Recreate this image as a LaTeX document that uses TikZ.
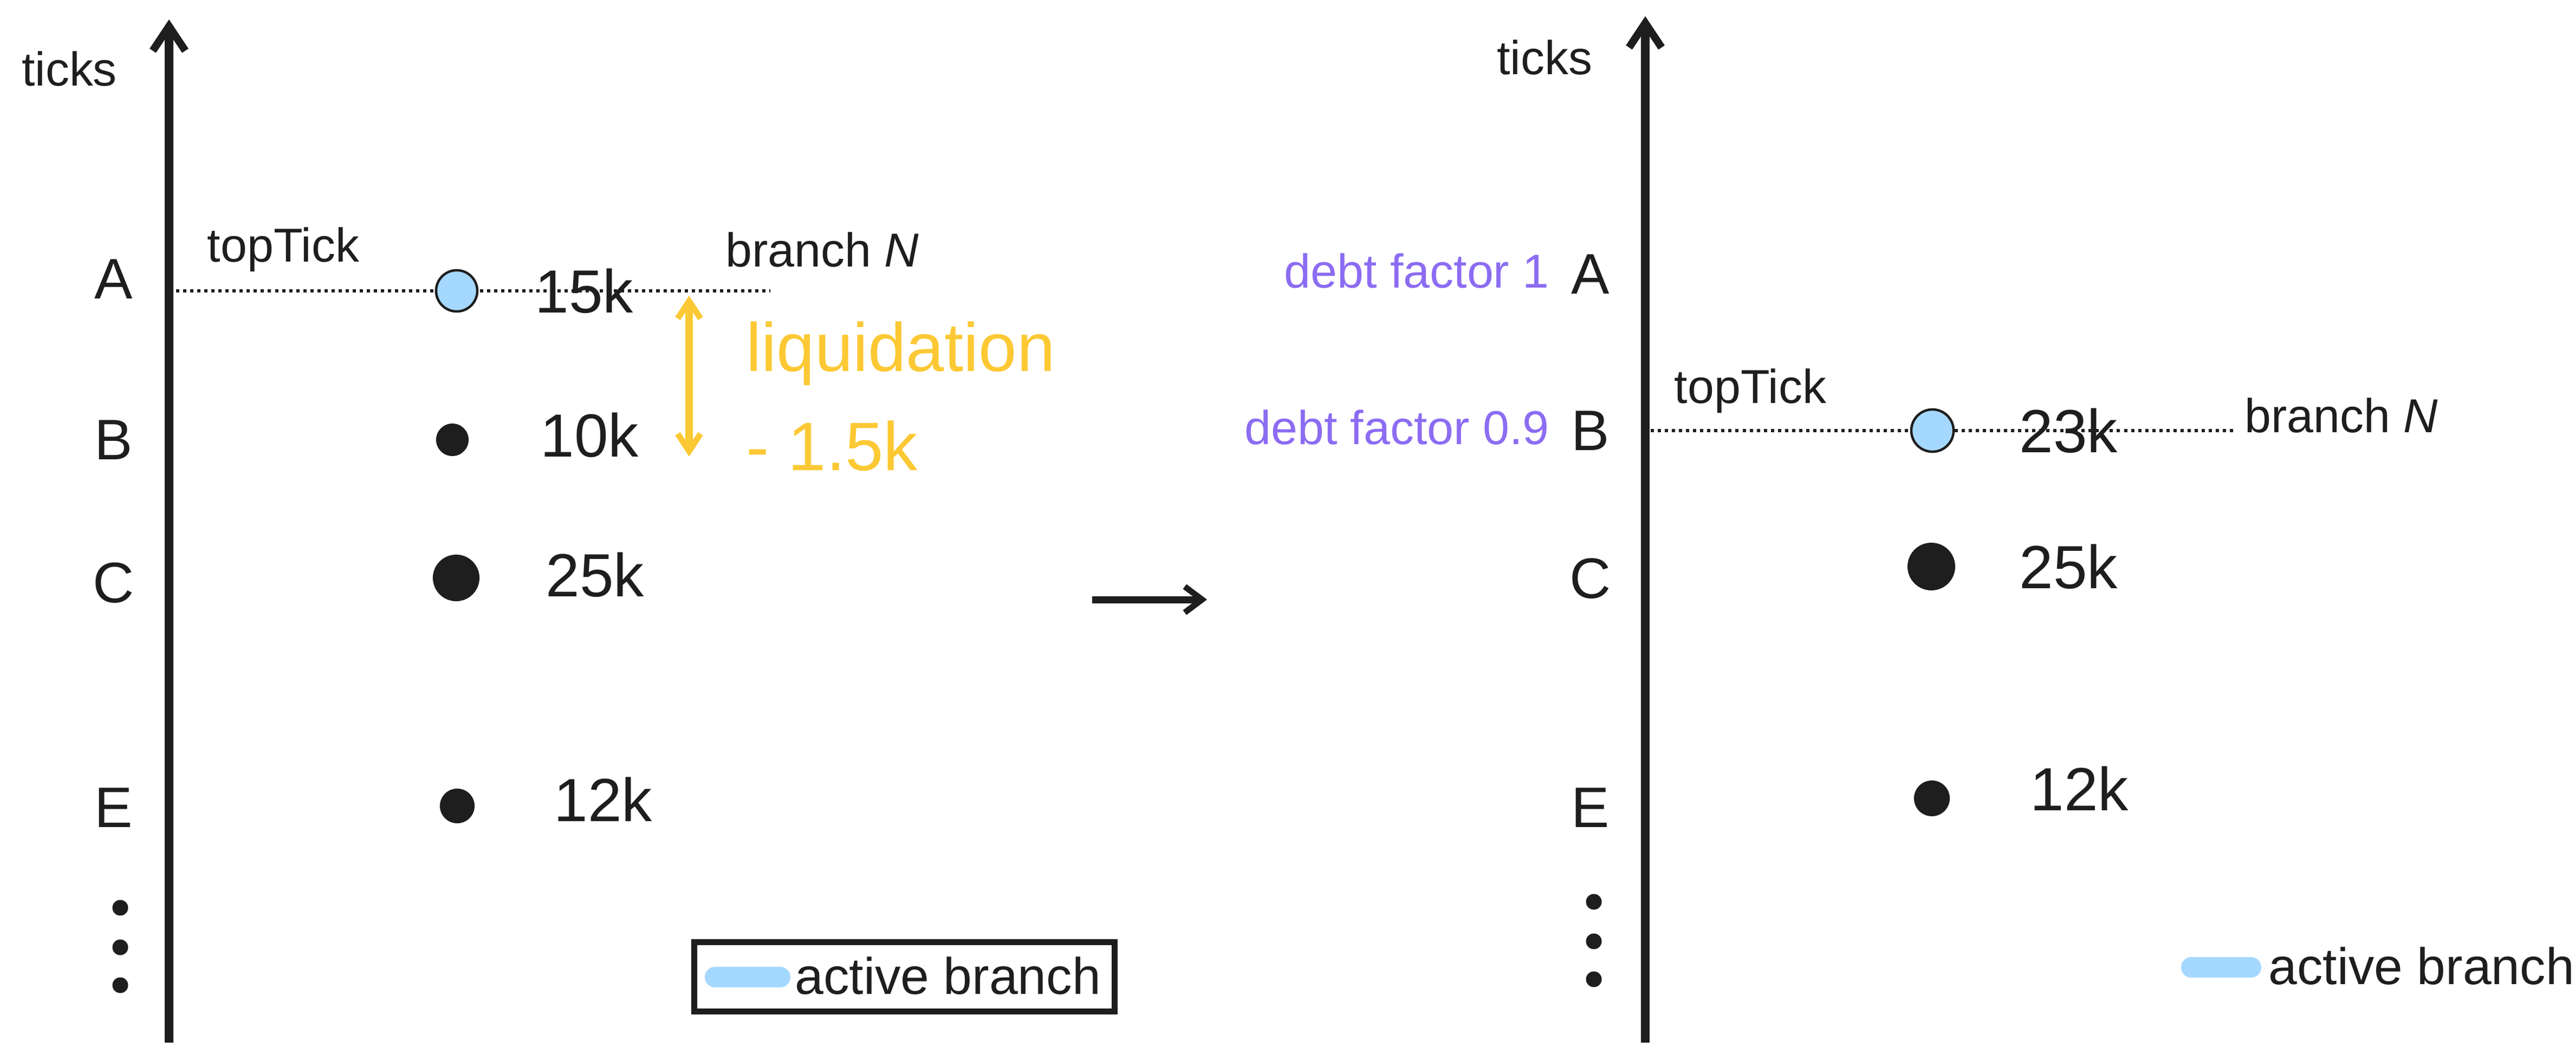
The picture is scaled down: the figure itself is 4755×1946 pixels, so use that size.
\documentclass[tikz,border=0pt]{standalone}
\usepackage{fontspec}
\setmainfont{Liberation Sans}
\usetikzlibrary{arrows.meta}
\definecolor{activeblue}{HTML}{A5D8FF}
\definecolor{liqyellow}{HTML}{FCC934}
\definecolor{debtviolet}{HTML}{8C6CF2}
\definecolor{ink}{HTML}{1E1E1E}
\begin{document}
\begin{tikzpicture}[x=0.01cm, y=-0.01cm, ink,
  axis/.style={line width=0.16cm, -{Straight Barb[length=0.45cm,width=0.6cm,line width=0.14cm]}},
  lbl/.style={font=\fontsize{30}{32}\selectfont},
  amount/.style={font=\fontsize{32}{34}\selectfont, anchor=west},
  small/.style={font=\fontsize{25}{27}\selectfont},
  tickdot/.style={circle, fill=ink, inner sep=0pt}]
\useasboundingbox (0,0) rectangle (4755,1946);

%% left panel
\coordinate (lbot) at (312,1925);
\coordinate (ltop) at (312,36);
\draw[axis] (lbot) -- (ltop);
\node[small] (lticks) at (128,127) {ticks};
\foreach \n/\y in {A/515,B/812,C/1076,E/1491}
  \node[lbl] (l\n) at (210,\y) {\n};
\foreach \y [count=\i] in {1676,1749,1819}
  \node[tickdot, minimum size=0.29cm] (ldot\i) at (222,\y) {};

\coordinate (lline1) at (325,537);
\coordinate (lline2) at (1422,537);
\draw[dotted, line width=0.06cm] (lline1) -- (lline2);
\node[small] (ltop) at (523,461) {topTick};
\node[small] (lbranch) at (1518,461) {branch \textit{N}};

\node[circle, draw=ink, fill=activeblue, line width=0.045cm, minimum size=0.76cm, inner sep=0pt] (lA) at (843,537) {};
\node[tickdot, minimum size=0.6cm] (lB) at (835,812) {};
\node[tickdot, minimum size=0.86cm] (lC) at (842,1067) {};
\node[tickdot, minimum size=0.64cm] (lE) at (844,1488) {};
\node[amount] (l15) at (975,537) {15k};
\node[amount] (l10) at (985,803) {10k};
\node[amount] (l25) at (995,1061) {25k};
\node[amount] (l12) at (1010,1476) {12k};

\coordinate (liq1) at (1272,546);
\coordinate (liq2) at (1272,843);
\draw[liqyellow, line width=0.14cm, {Straight Barb[length=0.32cm,width=0.42cm,line width=0.11cm]}-{Straight Barb[length=0.32cm,width=0.42cm,line width=0.11cm]}] (liq1) -- (liq2);
\node[liqyellow, font=\fontsize{36}{52}\selectfont, align=left, anchor=west] (liq) at (1365,732) {liquidation\\- 1.5k};

\node[draw=ink, line width=0.11cm, minimum width=7.76cm, minimum height=1.28cm, anchor=north west] (lkey) at (1276,1734) {};
\coordinate (lkey1) at (1320,1804);
\coordinate (lkey2) at (1440,1804);
\draw[activeblue, line width=0.38cm, line cap=round] (lkey1) -- (lkey2);
\node[font=\fontsize{27}{29}\selectfont, anchor=west] (lkeytxt) at (1455,1802) {active branch};

%% arrow between panels
\coordinate (mid1) at (2016,1107);
\coordinate (mid2) at (2228,1107);
\draw[line width=0.13cm, -{Straight Barb[length=0.32cm,width=0.48cm,line width=0.11cm]}] (mid1) -- (mid2);

%% right panel
\coordinate (rbot) at (3037,1925);
\coordinate (rtop) at (3037,30);
\draw[axis] (rbot) -- (rtop);
\node[small] (rticks) at (2851,106) {ticks};
\foreach \n/\y in {A/506,B/795,C/1068,E/1491}
  \node[lbl] (r\n) at (2936,\y) {\n};
\foreach \y [count=\i] in {1665,1738,1808}
  \node[tickdot, minimum size=0.29cm] (rdot\i) at (2942,\y) {};
\node[small, debtviolet, anchor=east] (rdebtA) at (2872,500) {debt factor 1};
\node[small, debtviolet, anchor=east] (rdebtB) at (2872,789) {debt factor 0.9};

\coordinate (rline1) at (3047,795);
\coordinate (rline2) at (4128,795);
\draw[dotted, line width=0.06cm] (rline1) -- (rline2);
\node[small] (rtop) at (3231,722) {topTick};
\node[small] (rbranch) at (4322,767) {branch \textit{N}};

\node[circle, draw=ink, fill=activeblue, line width=0.045cm, minimum size=0.78cm, inner sep=0pt] (rB) at (3567,795) {};
\node[tickdot, minimum size=0.88cm] (rC) at (3565,1046) {};
\node[tickdot, minimum size=0.66cm] (rE) at (3566,1474) {};
\node[amount] (r23) at (3715,795) {23k};
\node[amount] (r25) at (3715,1046) {25k};
\node[amount] (r12) at (3735,1456) {12k};

\coordinate (rkey1) at (4045,1786);
\coordinate (rkey2) at (4155,1786);
\draw[activeblue, line width=0.38cm, line cap=round] (rkey1) -- (rkey2);
\node[font=\fontsize{27}{29}\selectfont, anchor=west] (rkeytxt) at (4175,1784) {active branch};
\end{tikzpicture}
\end{document}
